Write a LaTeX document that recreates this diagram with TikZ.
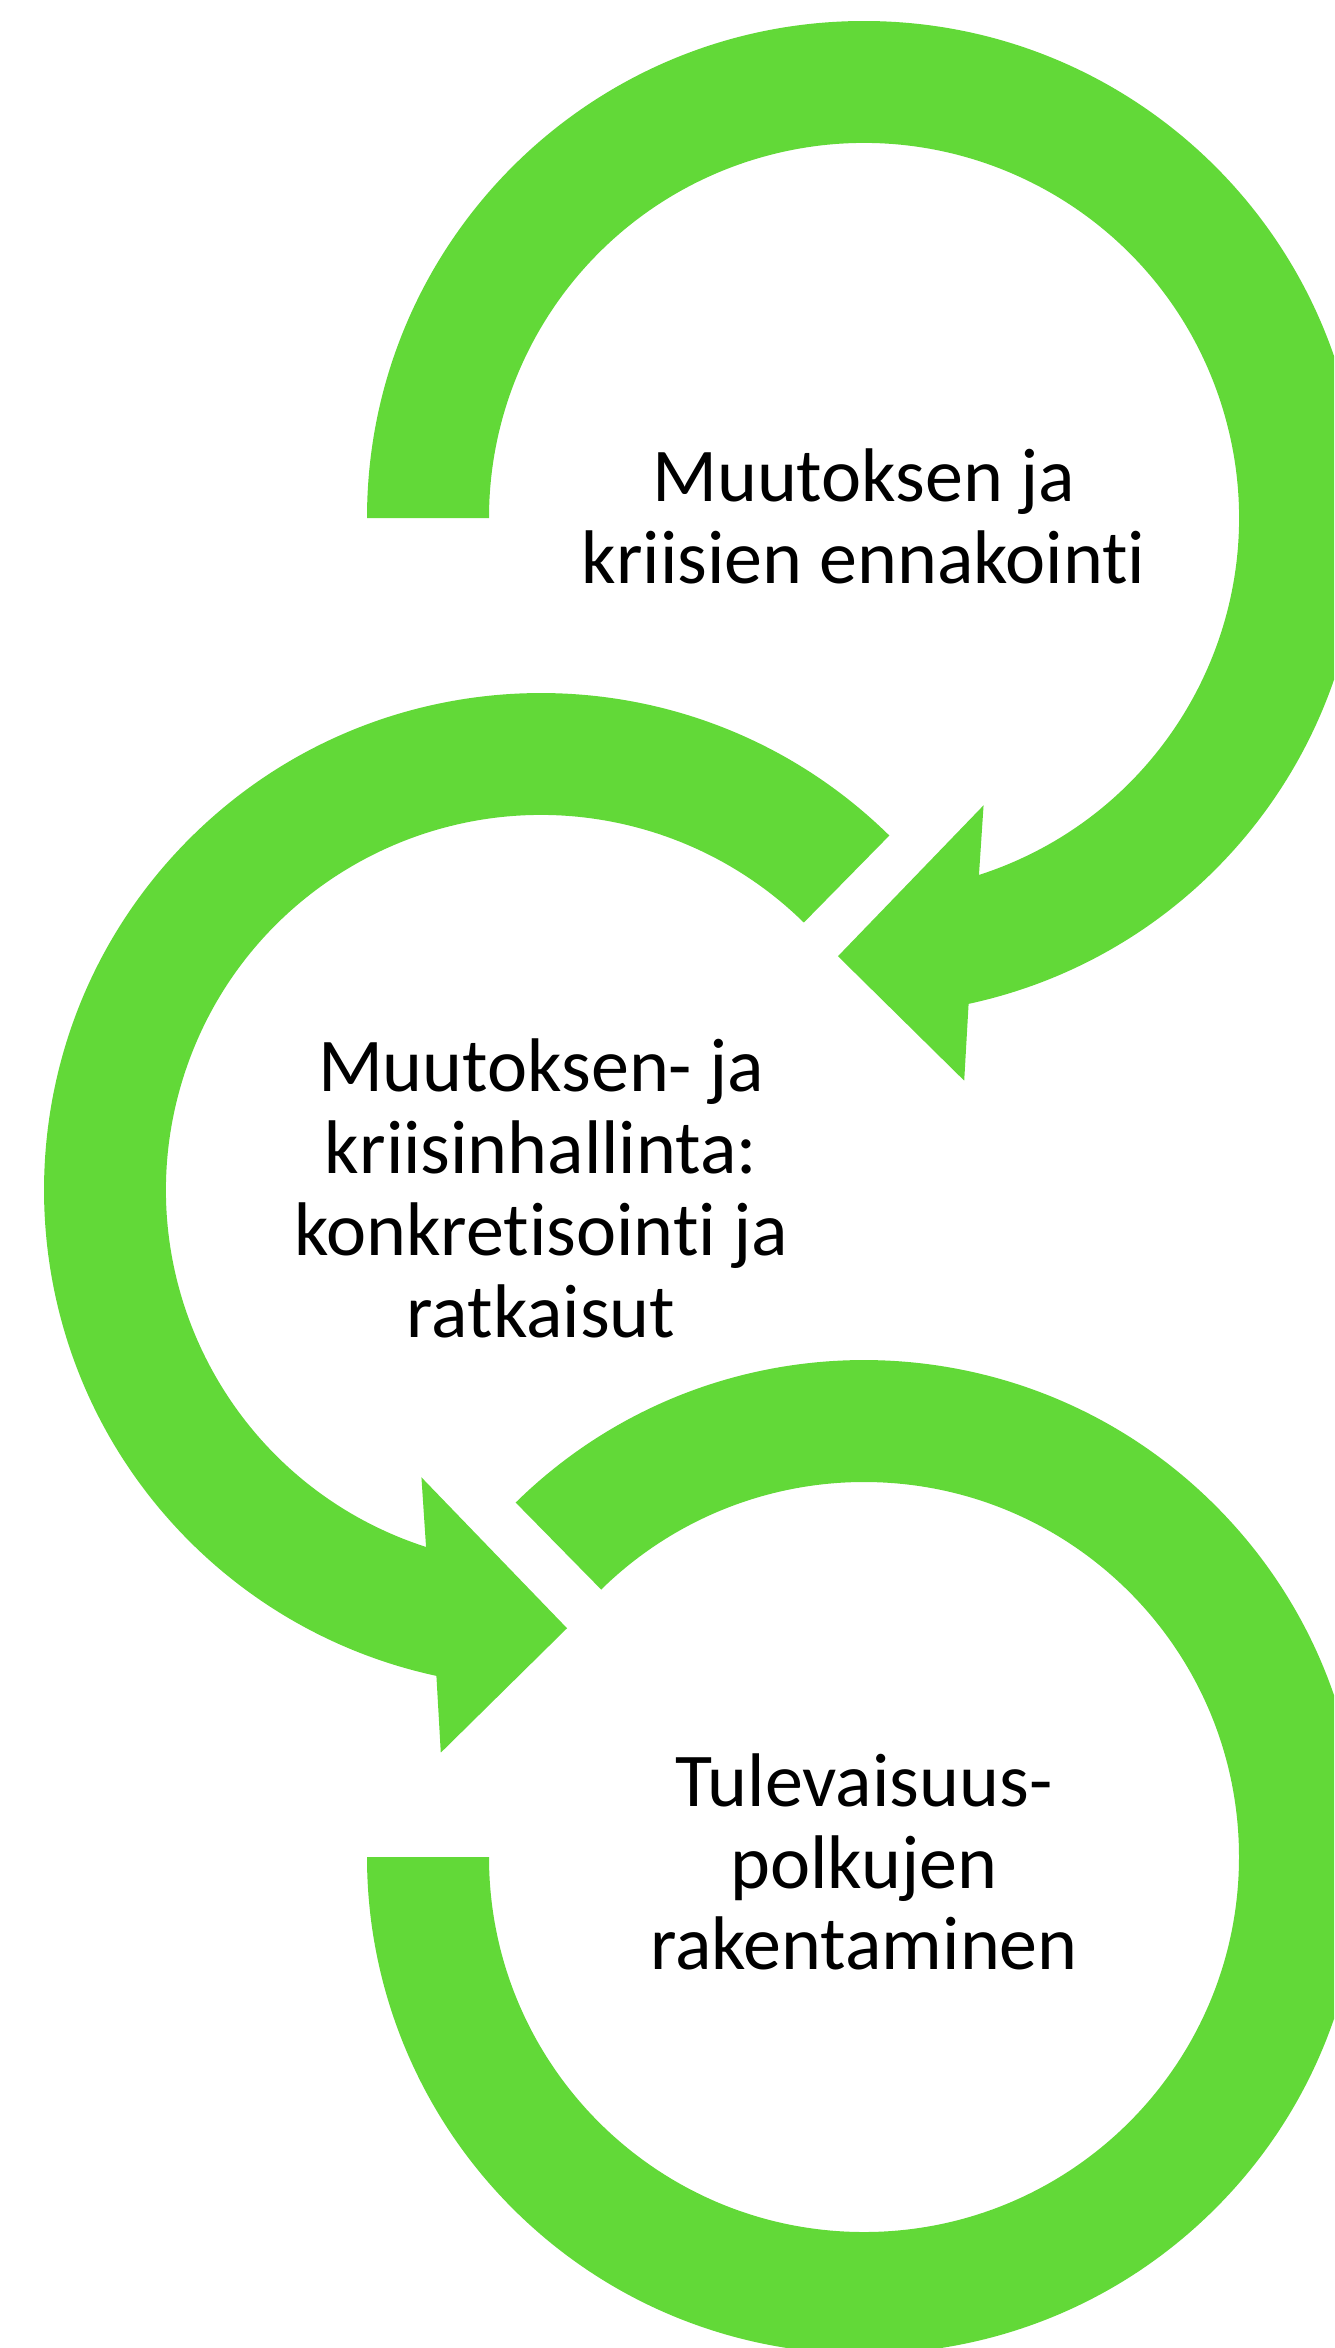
\documentclass[tikz,border=0pt]{standalone}
\usepackage{fontspec}
\setmainfont{Carlito}[RawFeature=-liga]
\usetikzlibrary{calc}
\definecolor{ringgreen}{RGB}{98,217,56}
\begin{document}
\begin{tikzpicture}[x=1pt,y=1pt,
  ring/.style={fill=ringgreen, draw=none},
  lbl/.style={font=\fontsize{76}{82}\selectfont, anchor=base, inner sep=0pt, text=black}]
\useasboundingbox (0,0) rectangle (1334,-2348);
\clip (0,0) rectangle (1334,-2348);
\coordinate (c1) at (864,-518);
\coordinate (c2) at (541,-1190);
\coordinate (c3) at (864,-1857);
% ring 1: clockwise arrow from the left, head at lower right
\fill[ring] ($(c1)+(180:497)$) arc[start angle=180,end angle=-77.85,radius=497]
  -- ($(c1)+(-79.9:571.5)$) -- ($(c1)+(-93.4:439)$) -- ($(c1)+(-67.4:311.2)$)
  -- ($(c1)+(-72.15:375)$) arc[start angle=-72.15,end angle=180,radius=375] -- cycle;
% ring 2: counter-clockwise arrow from the upper right, head at lower right
\fill[ring] ($(c2)+(45.5:497)$) arc[start angle=45.5,end angle=257.85,radius=497]
  -- ($(c2)+(259.9:571.5)$) -- ($(c2)+(273.4:439)$) -- ($(c2)+(247.4:311.2)$)
  -- ($(c2)+(252.15:375)$) arc[start angle=252.15,end angle=45.5,radius=375] -- cycle;
% ring 3: clockwise arc from the upper left to the left
\fill[ring] ($(c3)+(134.5:497)$) arc[start angle=134.5,end angle=-180,radius=497]
  -- ($(c3)+(-180:375)$) arc[start angle=-180,end angle=134.5,radius=375] -- cycle;
% texts
\node[lbl] (t1a) at (863.5,-501) {Muutoksen ja};
\node[lbl] (t1b) at (863.5,-583) {kriisien ennakointi};
\node[lbl] (t2a) at (541,-1091) {Muutoksen- ja};
\node[lbl] (t2b) at (541,-1173) {kriisinhallinta:};
\node[lbl] (t2c) at (541,-1255) {konkretisointi ja};
\node[lbl] (t2d) at (541,-1337) {ratkaisut};
\node[lbl] (t3a) at (864,-1806) {Tulevaisuus-};
\node[lbl] (t3b) at (864,-1888) {polkujen};
\node[lbl] (t3c) at (864,-1969) {rakentaminen};
\end{tikzpicture}
\end{document}
